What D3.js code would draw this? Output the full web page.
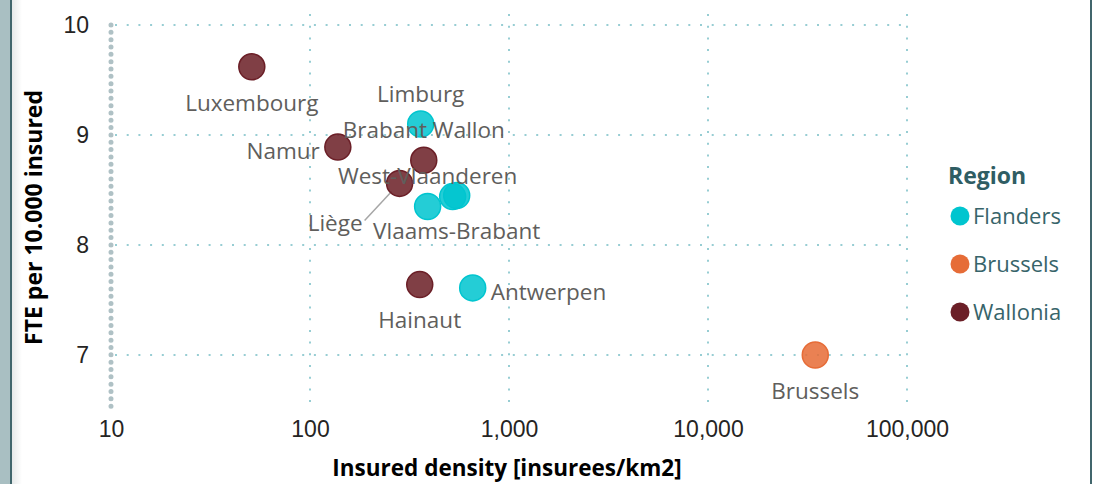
<!DOCTYPE html>
<html>
<head>
<meta charset="utf-8">
<script src="https://cdn.jsdelivr.net/npm/d3@7"></script>
<style>
  body { margin: 0; background: #fff; }
  svg { display: block; font-family: "Open Sans", "Noto Sans", sans-serif; }
</style>
</head>
<body>
<div id="chart"></div>
<script>
// data
const provinces = ["Luxembourg", "Namur", "Limburg", "Brabant Wallon", "Liège", "West-Vlaanderen",
  "Oost-Vlaanderen", "Vlaams-Brabant", "Antwerpen", "Hainaut", "Brussels"];
const regionOf = ["Wallonia", "Wallonia", "Flanders", "Wallonia", "Wallonia", "Flanders",
  "Flanders", "Flanders", "Flanders", "Wallonia", "Brussels"];
const density = [51, 138, 360, 373, 282, 390, 521, 546, 657, 356, 34600];
const ftePer10k = [9.62, 8.89, 9.10, 8.77, 8.56, 8.35, 8.44, 8.45, 7.61, 7.64, 7.00];
const labelSide = ["bottom", "left", "top", "top", "leader", "top", "none", "bottom", "right", "bottom", "bottom"];

const regions = ["Flanders", "Brussels", "Wallonia"];
const regionColors = ["#00c5cf", "#e66c37", "#6b1f27"];
const xTicks = [10, 100, 1000, 10000, 100000];
const yTicks = [7, 8, 9, 10];

const width = 1093;
const height = 484;

const svg = d3.select("#chart").append("svg")
  .attr("width", width)
  .attr("height", height);

// left panel + frame
const defs = svg.append("defs");
const grad = defs.append("linearGradient").attr("id", "shade");
grad.append("stop").attr("offset", "0%").attr("stop-color", "#e6e9e9");
grad.append("stop").attr("offset", "100%").attr("stop-color", "#ffffff");

svg.append("rect").attr("x", 0).attr("y", 0).attr("width", 10).attr("height", height).attr("fill", "#a9bfc2");
svg.append("rect").attr("x", 12).attr("y", 0).attr("width", 10).attr("height", height).attr("fill", "url(#shade)");
svg.append("rect").attr("x", 10).attr("y", 0).attr("width", 2).attr("height", height).attr("fill", "#41666c");
svg.append("rect").attr("x", 1090).attr("y", 0).attr("width", 2).attr("height", height).attr("fill", "#41666c");

// scales
const x = d3.scaleLog().domain([10, 100000]).range([111, 907]);
const y = d3.scaleLinear().domain([6.5, 10.1]).range([410, 14]);
const color = d3.scaleOrdinal().domain(regions).range(regionColors);

const fmt = d3.format(",");

// gridlines
const grid = svg.append("g");
grid.selectAll(".vgrid").data(xTicks.slice(1)).join("line")
  .attr("x1", d => x(d)).attr("x2", d => x(d))
  .attr("y1", y(10.1)).attr("y2", y(6.5))
  .attr("stroke", "#97cdd3").attr("stroke-width", 2)
  .attr("stroke-dasharray", "2 9.7");
grid.selectAll(".hgrid").data(yTicks).join("line")
  .attr("x1", x(10) + 4).attr("x2", x(100000))
  .attr("y1", d => y(d)).attr("y2", d => y(d))
  .attr("stroke", "#97cdd3").attr("stroke-width", 2)
  .attr("stroke-dasharray", "2 9.7");

// y axis line (thick dots)
svg.append("line")
  .attr("x1", x(10)).attr("x2", x(10))
  .attr("y1", y(10)).attr("y2", y(6.5) - 2)
  .attr("stroke", "#afc1c5").attr("stroke-width", 5)
  .attr("stroke-linecap", "round")
  .attr("stroke-dasharray", "0 7.33");

// axes labels
const yAxis = d3.axisLeft(y).tickValues(yTicks).tickSize(0).tickPadding(0).tickFormat(d3.format("d"));
svg.append("g").attr("transform", "translate(89,0)").call(yAxis)
  .call(g => g.select(".domain").remove())
  .selectAll("text").attr("font-size", 23).attr("fill", "#252423").attr("font-family", null);

const xAxis = d3.axisBottom(x).tickValues(xTicks).tickSize(0).tickPadding(0).tickFormat(fmt);
svg.append("g").attr("transform", "translate(0,421)").call(xAxis)
  .call(g => g.select(".domain").remove())
  .selectAll("text").attr("font-size", 23).attr("fill", "#252423").attr("font-family", null);

// axis titles
svg.append("text")
  .attr("x", x(1000) - 2).attr("y", 476)
  .attr("text-anchor", "middle")
  .attr("font-size", 22.5).attr("font-weight", "bold").attr("fill", "#000")
  .text("Insured density [insurees/km2]");
svg.append("text")
  .attr("transform", `translate(42,${y(8.25)}) rotate(-90)`)
  .attr("text-anchor", "middle")
  .attr("font-size", 23).attr("font-weight", "bold").attr("fill", "#000")
  .text("FTE per 10.000 insured");

// points
const points = provinces.map((name, i) => ({
  name, region: regionOf[i], x: density[i], y: ftePer10k[i], side: labelSide[i]
}));

const r = 13;

// leader lines go under the points
const leaders = svg.append("g");
points.filter(d => d.side === "leader").forEach(d => {
  const cx = x(d.x), cy = y(d.y);
  leaders.append("line")
    .attr("x1", cx - 35).attr("y1", cy + 37)
    .attr("x2", cx - 8).attr("y2", cy + 8)
    .attr("stroke", "#a6a6a6").attr("stroke-width", 1.5);
});

svg.append("g").selectAll("circle").data(points).join("circle")
  .attr("cx", d => x(d.x))
  .attr("cy", d => y(d.y))
  .attr("r", r)
  .attr("fill", d => color(d.region))
  .attr("fill-opacity", 0.86)
  .attr("stroke", d => color(d.region))
  .attr("stroke-width", 1.5);

// data labels
const labels = svg.append("g")
  .attr("font-size", 22.5).attr("fill", "#605e5c");

points.filter(d => d.side !== "none").forEach(d => {
  const cx = x(d.x), cy = y(d.y);
  const t = labels.append("text").attr("dy", "0.35em").text(d.name);
  if (d.side === "top") t.attr("x", cx).attr("y", cy - 30).attr("text-anchor", "middle");
  if (d.side === "bottom") t.attr("x", cx).attr("y", cy + 36).attr("text-anchor", "middle");
  if (d.side === "left") t.attr("x", cx - 18).attr("y", cy + 4).attr("text-anchor", "end");
  if (d.side === "right") t.attr("x", cx + 18).attr("y", cy + 4).attr("text-anchor", "start");
  if (d.side === "leader") t.attr("x", cx - 37).attr("y", cy + 40).attr("text-anchor", "end");
});

// legend
const legend = svg.append("g").attr("transform", "translate(948,0)");
legend.append("text")
  .attr("x", 0).attr("y", 184)
  .attr("font-size", 23).attr("font-weight", "bold").attr("fill", "#2f5d63")
  .text("Region");
const item = legend.selectAll(".item").data(regions).join("g")
  .attr("transform", (d, i) => `translate(0,${216 + i * 48})`);
item.append("circle").attr("cx", 12).attr("cy", 0).attr("r", 9.5).attr("fill", d => color(d));
item.append("text").attr("x", 25).attr("y", 0).attr("dy", "0.35em")
  .attr("font-size", 22).attr("fill", "#37646a")
  .text(d => d);
</script>
</body>
</html>
